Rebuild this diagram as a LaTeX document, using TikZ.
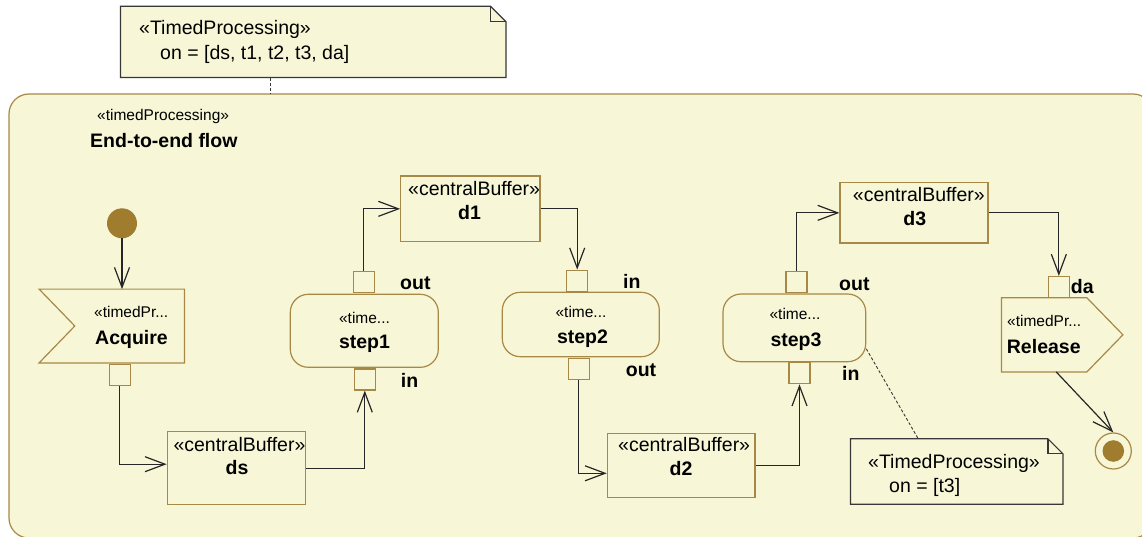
\documentclass[tikz,border=0pt]{standalone}
\usepackage{fontspec}
\setmainfont{Liberation Sans}
\usetikzlibrary{arrows.meta, calc}
\definecolor{framefill}{RGB}{247,247,216}
\definecolor{umlgold}{RGB}{168,136,70}
\definecolor{dotfill}{RGB}{160,124,46}
\definecolor{notegray}{RGB}{55,55,55}
\tikzset{
	framebox/.style={draw=umlgold, fill=framefill, line width=1.2pt, rounded corners=20pt, inner sep=0pt},
	bufbox/.style={draw=umlgold, fill=framefill, line width=1.2pt, inner sep=0pt},
	actbox/.style={draw=umlgold, fill=framefill, line width=1.2pt, rounded corners=18pt, inner sep=0pt},
	pinbox/.style={draw=umlgold, fill=framefill, line width=1.2pt, inner sep=0pt, minimum size=21pt},
	% invisible frame for shapes drawn by hand
	shapeframe/.style={inner sep=0pt},
	shapeline/.style={draw=umlgold, fill=framefill, line width=1.2pt},
	noteline/.style={draw=notegray, fill=framefill, line width=1.2pt},
	startdot/.style={circle, fill=dotfill, inner sep=0pt, minimum size=30pt},
	enddot/.style={circle, draw=umlgold, fill=framefill, line width=1.2pt, inner sep=0pt, minimum size=36pt},
	stereo/.style={font=\fontsize{15.5pt}{18pt}\selectfont, inner sep=0pt},
	utext/.style={font=\fontsize{19.5pt}{23pt}\selectfont, inner sep=0pt},
	uname/.style={font=\fontsize{19.5pt}{23pt}\selectfont\bfseries, inner sep=0pt},
	flowarrow/.style={line width=1.2pt, black!85, -{Straight Barb[length=20pt, width=15pt]}},
	anchorline/.style={notegray, line width=0.9pt, dash pattern=on 3pt off 2pt},
}

\begin{document}
\begin{tikzpicture}[x=1pt, y=-1pt]
	\useasboundingbox (0,0) rectangle (1142,537);
	\clip (0,0) rectangle (1142,537);
	
	% activity frame
	\node (flowframe) [framebox, minimum width=1144pt, minimum height=444pt] at (581,316) {};
	\node (st-flow) [stereo, anchor=base west] at (97,120.5) {«timedProcessing»};
	\node (n-flow) [uname, anchor=base west] at (90,147.7) {End-to-end flow};
	
	% note on the frame
	\node (tnote) [shapeframe, minimum width=385pt, minimum height=71pt] at (313.2,41.9) {};
	\draw[noteline] (tnote.south west) -- (tnote.north west) -- ([xshift=-15.5pt]tnote.north east) -- ([yshift=-15.5pt]tnote.north east) -- (tnote.south east) -- cycle;
	\draw[notegray, line width=1.2pt] ([xshift=-15.5pt]tnote.north east) -- ++(0,15.5) -- ([yshift=-15.5pt]tnote.north east);
	\node (st-tnote) [utext, anchor=base west] at (139,35) {«TimedProcessing»};
	\node (on-tnote) [utext, anchor=base west] at (160,60) {on = [ds, t1, t2, t3, da]};
	\draw[anchorline] ($(tnote.south)+(-43.2,0)$) -- ($(flowframe.north)+(-311,0)$);
	
	% start and accept event
	\node (start) [startdot] at (122,223.3) {};
	\node (acq) [shapeframe, minimum width=145pt, minimum height=73.4pt] at (111.8,326) {};
	\draw[shapeline] (acq.north west) -- (acq.north east) -- (acq.south east) -- (acq.south west) -- ([xshift=35.7pt]acq.west) -- cycle;
	\node (st-acq) [stereo, anchor=base west] at (94,317.7) {«timedPr...};
	\node (n-acq) [uname, anchor=base west] at (95,344.3) {Acquire};
	\node (p-acq) [pinbox] at (119.8,374.7) {};
	
	% buffers
	\node (ds) [bufbox, minimum width=138pt, minimum height=73pt] at (236.3,468.2) {};
	\node (st-ds) [utext, anchor=base west] at (173.3,451) {«centralBuffer»};
	\node (n-ds) [uname, anchor=base] at (237,474) {ds};
	\node (d1) [bufbox, minimum width=139.3pt, minimum height=65.7pt] at (470.35,208.85) {};
	\node (st-d1) [utext, anchor=base west] at (408,196) {«centralBuffer»};
	\node (n-d1) [uname, anchor=base] at (469.5,220) {d1};
	\node (d2) [bufbox, minimum width=147.7pt, minimum height=64pt] at (681.2,465.3) {};
	\node (st-d2) [utext, anchor=base west] at (618,451) {«centralBuffer»};
	\node (n-d2) [uname, anchor=base] at (681,475) {d2};
	\node (d3) [bufbox, minimum width=148pt, minimum height=60.3pt] at (914,212.85) {};
	\node (st-d3) [utext, anchor=base west] at (852.7,201.7) {«centralBuffer»};
	\node (n-d3) [uname, anchor=base] at (914.7,225.7) {d3};
	
	% steps with their pins
	\node (step1) [actbox, minimum width=148pt, minimum height=73pt] at (364.3,330.8) {};
	\node (st-step1) [stereo, anchor=base] at (364.5,323) {«time...};
	\node (n-step1) [uname, anchor=base] at (364.5,348) {step1};
	\node (s1in) [pinbox] at (364.8,379.5) {};
	\node (s1out) [pinbox] at (363.8,282) {};
	\node (l-s1in) [uname, anchor=base west] at (400.7,387) {in};
	\node (l-s1out) [uname, anchor=base west] at (400,289) {out};
	
	\node (step2) [actbox, minimum width=157pt, minimum height=64.4pt] at (580.8,324.5) {};
	\node (st-step2) [stereo, anchor=base] at (581,317) {«time...};
	\node (n-step2) [uname, anchor=base] at (582.5,343) {step2};
	\node (s2in) [pinbox] at (577.2,280.7) {};
	\node (s2out) [pinbox] at (578.8,368.8) {};
	\node (l-s2in) [uname, anchor=base west] at (623,288) {in};
	\node (l-s2out) [uname, anchor=base west] at (625.7,376) {out};
	
	\node (step3) [actbox, minimum width=142.7pt, minimum height=67.7pt] at (794.35,327.85) {};
	\node (st-step3) [stereo, anchor=base] at (795,319) {«time...};
	\node (n-step3) [uname, anchor=base] at (796,346) {step3};
	\node (s3in) [pinbox] at (799.5,373.2) {};
	\node (s3out) [pinbox] at (796.5,282) {};
	\node (l-s3in) [uname, anchor=base west] at (842,380.7) {in};
	\node (l-s3out) [uname, anchor=base west] at (839,290) {out};
	
	% send signal and final node
	\node (rel) [shapeframe, minimum width=121pt, minimum height=73.7pt] at (1062.2,334.85) {};
	\draw[shapeline] (rel.north west) -- ([xshift=-36pt]rel.north east) -- (rel.east) -- ([xshift=-36pt]rel.south east) -- (rel.south west) -- cycle;
	\node (st-rel) [stereo, anchor=base west] at (1007,326.7) {«timedPr...};
	\node (n-rel) [uname, anchor=base west] at (1006.7,353) {Release};
	\node (p-da) [pinbox] at (1058.85,287) {};
	\node (l-da) [uname, anchor=base west] at (1070.7,293) {da};
	\node (fin) [enddot] at (1113.3,451) {};
	\fill[dotfill] (fin) circle (10.8pt);
	
	% note on step3
	\node (n2) [shapeframe, minimum width=212pt, minimum height=65pt] at (956.7,471.5) {};
	\draw[noteline] (n2.south west) -- (n2.north west) -- ([xshift=-15pt]n2.north east) -- ([yshift=-15pt]n2.north east) -- (n2.south east) -- cycle;
	\draw[notegray, line width=1.2pt] ([xshift=-15pt]n2.north east) -- ++(0,15) -- ([yshift=-15pt]n2.north east);
	\begin{scope}
		\clip (n2.south west) rectangle ($(n2.north east)+(-24.7,0)$);
		\node (st-n2) [utext, anchor=base west] at (868,468) {«TimedProcessing»};
	\end{scope}
	\node (on-n2) [utext, anchor=base west] at (889,492) {on = [t3]};
	\draw[anchorline] ([yshift=-21pt]step3.east) -- ([xshift=-38.5pt]n2.north);
	
	% object and control flows
	\draw[flowarrow] (start) -- (start |- acq.north);
	\draw[flowarrow] (p-acq.south) |- ([yshift=4pt]ds.west);
	\draw[flowarrow] (ds.east) -| (s1in.south);
	\draw[flowarrow] (s1out.north) |- (d1.west);
	\draw[flowarrow] (d1.east) -| (s2in.north);
	\draw[flowarrow] (s2out.south) |- ([yshift=-8pt]d2.west);
	\draw[flowarrow] (d2.east) -| (s3in.south);
	\draw[flowarrow] (s3out.north) |- (d3.west);
	\draw[flowarrow] (d3.east) -| (p-da.north);
	\draw[flowarrow] ([xshift=-6pt]rel.south) -- (fin.north);
\end{tikzpicture}
\end{document}
